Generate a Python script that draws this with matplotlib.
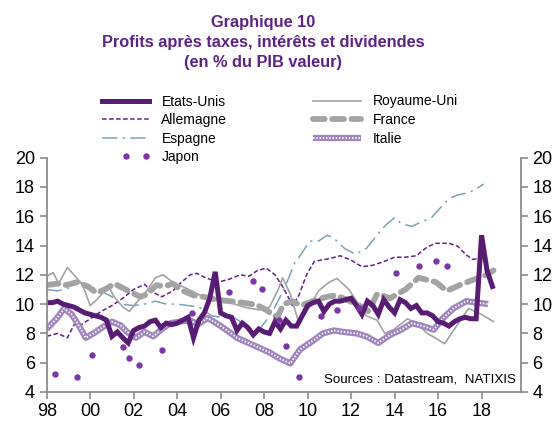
import numpy as np
import matplotlib
matplotlib.use("Agg")
import matplotlib.pyplot as plt
from matplotlib.legend_handler import HandlerTuple, HandlerLine2D

plt.rcParams['font.family'] = ['Liberation Sans', 'DejaVu Sans']

# ---------------- data ----------------
us_start = 1998.0
us_values = [10.1, 10.1, 10.2, 10.0,
             9.9, 9.8, 9.6, 9.4,
             9.3, 9.2, 9.1, 8.9,
             7.8, 8.1, 7.7, 7.35,
             8.2, 8.4, 8.5, 8.8,
             8.9, 8.4, 8.7, 8.6,
             8.7, 8.9, 9.1, 7.7,
             8.9, 9.4, 10.4, 12.2,
             9.4, 9.2, 9.1, 8.2,
             8.7, 8.4, 7.9, 8.3,
             8.1, 8.0, 8.8, 8.3,
             8.9, 8.5, 8.5, 9.2,
             9.9, 10.1, 10.2, 9.5,
             10.0, 10.2, 10.2, 10.3,
             10.4, 9.9, 9.3, 10.2,
             9.9, 9.3, 10.3, 9.8,
             9.4, 10.3, 10.1, 9.7,
             9.9, 9.4, 9.4, 9.2,
             8.8, 8.7, 8.5, 8.8,
             9.0, 9.1, 9.0, 9.0,
             14.7, 12.3, 11.2]

uk_years = [1998.0, 1998.3, 1998.55, 1998.95, 1999.4, 1999.65, 2000.0, 2000.3, 2000.85,
            2001.1, 2001.5, 2001.8, 2002.1, 2002.6, 2003.0, 2003.35, 2003.8, 2004.1,
            2004.6, 2005.2, 2005.75, 2006.3, 2006.75, 2007.2, 2007.8, 2008.25, 2008.65,
            2008.85, 2009.2, 2009.6, 2010.0, 2010.5, 2011.0, 2011.35, 2011.9, 2012.25,
            2012.7, 2013.2, 2013.55, 2014.0, 2014.6, 2015.0, 2015.5, 2015.8, 2016.3,
            2016.8, 2017.4, 2018.0, 2018.55]
uk_values = [11.9, 12.15, 11.4, 12.5, 11.75, 11.3, 9.9, 10.3, 11.2,
             10.5, 9.8, 9.5, 10.05, 10.9, 11.8, 12.0, 11.5, 11.3,
             10.95, 10.5, 10.3, 10.2, 9.95, 9.75, 9.6, 9.8, 11.0,
             11.8, 10.7, 8.7, 9.6, 10.9, 11.5, 11.75, 11.0, 10.2,
             9.2, 8.9, 8.0, 8.3, 9.0, 8.7, 8.0, 7.75, 7.3,
             8.4, 9.7, 9.3, 8.8]

de_years = [1998.0, 1998.5, 1998.95, 1999.3, 1999.6, 2000.0, 2000.5, 2001.0, 2001.5,
            2002.0, 2002.5, 2002.9, 2003.3, 2003.8, 2004.2, 2004.6, 2004.9, 2005.3,
            2005.9, 2006.4, 2006.9, 2007.3, 2007.7, 2008.1, 2008.5, 2008.85, 2009.1,
            2009.3, 2009.6, 2009.95, 2010.3, 2010.6, 2011.0, 2011.5, 2012.0, 2012.5,
            2013.0, 2013.5, 2014.0, 2014.5, 2015.0, 2015.5, 2015.9, 2016.5, 2016.9,
            2017.3, 2017.6, 2018.0]
de_values = [7.8, 8.0, 7.7, 8.7, 8.6, 9.0, 9.5, 9.9, 10.4,
             11.0, 11.35, 10.8, 10.5, 10.9, 11.5, 12.0, 12.1, 11.8,
             11.5, 11.7, 12.0, 11.9, 12.3, 12.45, 12.0, 11.2, 10.5,
             9.9, 10.6, 12.0, 12.9, 13.0, 13.1, 13.3, 13.0, 12.55,
             12.65, 12.9, 13.2, 13.2, 13.3, 13.9, 14.15, 14.15, 13.95,
             13.35, 13.05, 13.15]

fr_years = [1998.0, 1998.5, 1998.9, 1999.4, 1999.9, 2000.3, 2000.8, 2001.1, 2001.7,
            2002.3, 2002.6, 2003.05, 2003.4, 2003.8, 2004.2, 2004.75, 2005.2, 2005.8,
            2006.4, 2007.0, 2007.65, 2008.1, 2008.6, 2008.9, 2009.3, 2009.7, 2010.4,
            2010.9, 2011.3, 2011.8, 2012.5, 2012.8, 2013.2, 2013.8, 2014.5, 2015.1,
            2015.9, 2016.4, 2017.0, 2017.6, 2018.1, 2018.55]
fr_values = [11.3, 11.4, 11.3, 11.5, 11.2, 10.75, 11.1, 11.4, 10.95,
             10.5, 10.65, 11.3, 11.2, 11.4, 10.95, 10.6, 10.5, 10.3,
             10.2, 10.1, 9.95, 9.6, 9.1, 10.0, 10.2, 9.9, 10.3,
             10.5, 10.6, 10.3, 9.8, 9.5, 10.7, 10.4, 11.0, 11.8,
             11.5, 10.9, 11.3, 11.65, 11.9, 12.3]

es_years = [1998.0, 1998.5, 1999.0, 1999.5, 2000.0, 2000.5, 2001.0, 2001.4, 2002.0,
            2002.5, 2003.0, 2003.5, 2004.0, 2004.5, 2005.0, 2005.6, 2006.0, 2006.5,
            2007.0, 2007.5, 2007.8, 2008.2, 2008.5, 2009.0, 2009.4, 2009.7, 2010.1,
            2010.5, 2010.9, 2011.2, 2011.7, 2012.2, 2012.7, 2013.3, 2013.6, 2014.0,
            2014.3, 2014.8, 2015.2, 2015.7, 2016.0, 2016.5, 2016.9, 2017.4, 2017.9,
            2018.1]
es_values = [11.0, 10.9, 11.1, 11.5, 11.2, 10.9, 10.5, 10.0, 9.9,
             10.0, 10.2, 10.0, 10.0, 9.9, 9.8, 9.2, 9.1, 9.2,
             8.7, 8.2, 8.3, 9.1, 9.8, 11.3, 12.8, 13.4, 14.3,
             14.3, 14.7, 14.5, 13.8, 13.4, 13.8, 14.9, 15.4, 15.9,
             15.5, 15.3, 15.6, 15.9, 16.4, 17.2, 17.45, 17.6, 18.0,
             18.2]

it_years = [1998.0, 1998.45, 1998.8, 1999.15, 1999.45, 1999.8, 2000.15, 2000.6, 2001.0,
            2001.4, 2001.7, 2002.1, 2002.5, 2002.9, 2003.3, 2003.7, 2004.1, 2004.6,
            2004.95, 2005.4, 2005.8, 2006.3, 2006.75, 2007.2, 2007.65, 2008.25, 2008.7,
            2009.2, 2009.65, 2010.25, 2010.7, 2011.2, 2011.65, 2012.25, 2012.7, 2013.25,
            2013.8, 2014.3, 2014.8, 2015.3, 2015.8, 2016.2, 2016.7, 2017.3, 2017.8,
            2018.3]
it_values = [8.3, 9.0, 9.7, 9.3, 8.6, 7.7, 8.0, 8.45, 8.8,
             8.55, 8.1, 7.7, 8.1, 7.8, 8.3, 8.7, 8.8, 8.9,
             8.6, 9.05, 8.7, 8.2, 7.7, 7.4, 7.1, 6.7, 6.3,
             5.95, 6.9, 7.5, 8.0, 8.2, 8.1, 8.0, 7.8, 7.35,
             7.9, 8.25, 8.7, 8.5, 8.25, 9.0, 9.7, 10.2, 10.1,
             10.0]

jp_years = [1998.4, 1999.4, 2000.1, 2001.5, 2001.8, 2002.25, 2003.3, 2004.7, 2006.4,
            2007.5, 2007.9, 2008.7, 2009.0, 2009.6, 2010.6, 2011.35, 2012.35, 2014.05,
            2015.1, 2015.9, 2016.4]
jp_values = [5.2, 5.05, 6.5, 7.05, 6.35, 5.85, 6.85, 9.4, 10.8,
             11.55, 11.05, 8.9, 7.15, 5.0, 9.2, 9.6, 9.7, 12.15,
             12.6, 12.95, 12.6]

xtick_years = [1998, 2000, 2002, 2004, 2006, 2008, 2010, 2012, 2014, 2016, 2018]
xtick_labels = ['98', '00', '02', '04', '06', '08', '10', '12', '14', '16', '18']
yticks = [4, 6, 8, 10, 12, 14, 16, 18, 20]

title_lines = "Graphique 10\nProfits après taxes, intérêts et dividendes\n(en % du PIB valeur)"

# ---------------- colors ----------------
c_us = '#561d72'
c_de = '#5c2483'
c_jp = '#7a35a8'
c_grey = '#a3a3a3'
c_es = '#7ea2b3'
c_it = '#9f86bd'
c_title = '#5c2483'

us_x = us_start + 0.25 * np.arange(len(us_values))

W, H = 555, 422
fig = plt.figure(figsize=(W / 100, H / 100), dpi=100)
ax = fig.add_axes([46.7 / W, 1 - 392 / H, (520.7 - 46.7) / W, (392 - 157.6) / H])

l_es, = ax.plot(es_years, es_values, color=c_es, lw=1.1, dashes=(10, 3.5, 1.5, 3.5), label='Espagne')
l_de, = ax.plot(de_years, de_values, color=c_de, lw=1.1, dashes=(3, 1.6), label='Allemagne')
l_uk, = ax.plot(uk_years, uk_values, color=c_grey, lw=1.2, label='Royaume-Uni')
l_fr, = ax.plot(fr_years, fr_values, color=c_grey, lw=4.2, dashes=(2.0, 1.3),
                dash_capstyle='round', label='France')
l_it1, = ax.plot(it_years, it_values, color=c_it, lw=4.5, solid_capstyle='butt')
l_it2, = ax.plot(it_years, it_values, color='white', lw=1.3, dashes=(0.8, 1.0))
l_us, = ax.plot(us_x, us_values, color=c_us, lw=3.6, solid_joinstyle='miter', label='Etats-Unis')
l_jp, = ax.plot(jp_years, jp_values, ls='none', marker='o', ms=4.6, color=c_jp,
                markeredgewidth=0, label='Japon')

ax.set_xlim(1998, 2019.8)
ax.set_ylim(4, 20)
ax.set_xticks(xtick_years)
ax.set_xticklabels(xtick_labels)
ax.set_yticks(yticks)
ax.tick_params(axis='both', labelsize=13, colors='#000000', length=5, width=1.2,
               color='#8c8c8c', direction='out')
ax.tick_params(axis='y', right=True, labelright=True)
ax.tick_params(axis='x', pad=3)
ax.spines['top'].set_visible(False)
for s in ['left', 'right', 'bottom']:
    ax.spines[s].set_color('#8c8c8c')
    ax.spines[s].set_linewidth(1.3)

ax.text(0.99, 0.055, 'Sources : Datastream,  NATIXIS', transform=ax.transAxes,
        ha='right', va='center', fontsize=9.6)

fig.text(263 / W, 1 - 14.5 / H, title_lines, ha='center', va='top', fontsize=11.8,
         fontweight='bold', color=c_title, linespacing=1.42)


class JapanHandler(HandlerLine2D):
    def get_xdata(self, legend, xdescent, ydescent, width, height, fontsize):
        xs = np.array([0.51, 0.87]) * width - xdescent
        return xs, xs


handles = [l_us, l_de, l_es, l_jp, l_uk, l_fr, (l_it1, l_it2)]
labels = ['Etats-Unis', 'Allemagne', 'Espagne', 'Japon', 'Royaume-Uni', 'France', 'Italie']
leg = fig.legend(handles, labels, ncol=2, loc='upper left',
                 bbox_to_anchor=(85 / W, 1 - 82 / H), frameon=False, fontsize=10,
                 handlelength=4.0, handletextpad=0.6, columnspacing=5.9,
                 labelspacing=0.33, numpoints=2,
                 handler_map={tuple: HandlerTuple(ndivide=1, pad=0),
                              l_jp: JapanHandler(numpoints=2)})

fig.savefig('out.png', dpi=100)
